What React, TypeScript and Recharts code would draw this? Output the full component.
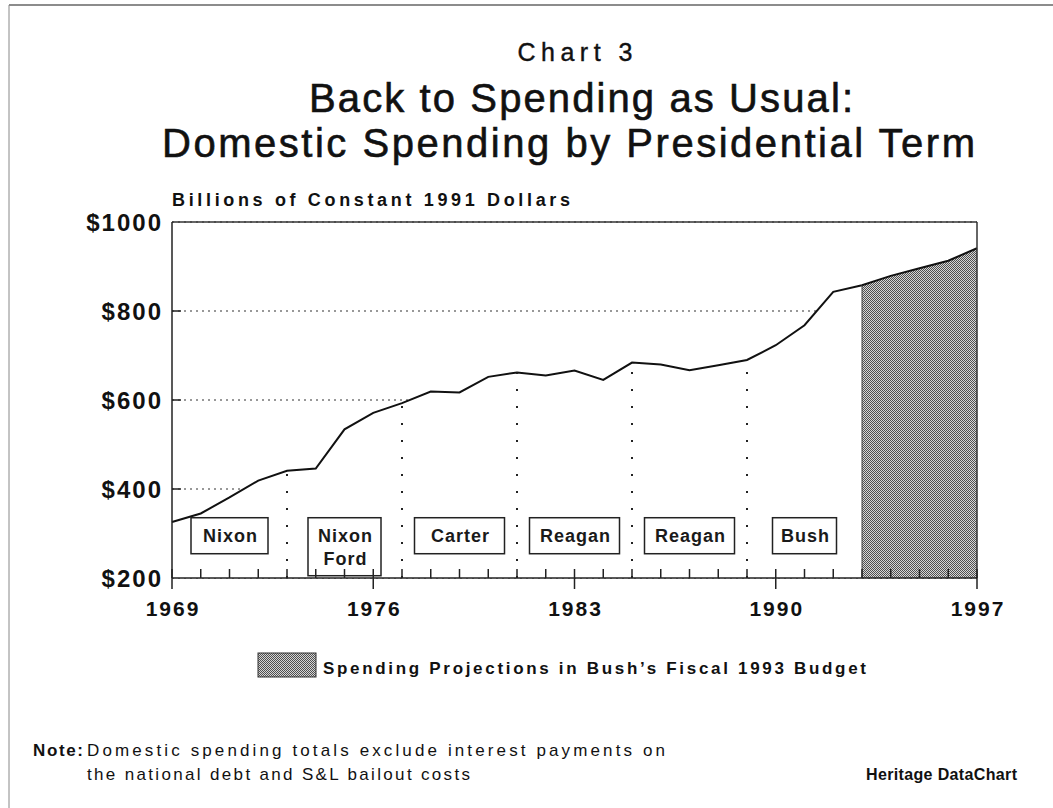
import {
  ComposedChart,
  Area,
  Line,
  XAxis,
  YAxis,
  CartesianGrid,
  ReferenceLine,
  ReferenceDot,
} from "recharts";

const FONT = '"Liberation Sans", Arial, Helvetica, sans-serif';

// domestic spending, billions of constant 1991 dollars
const years = [
  1969, 1970, 1971, 1972, 1973, 1974, 1975, 1976, 1977, 1978, 1979, 1980, 1981, 1982, 1983,
  1984, 1985, 1986, 1987, 1988, 1989, 1990, 1991, 1992, 1993, 1994, 1995, 1996, 1997,
];
const spending = [
  326, 345, 381, 419, 441, 446, 534, 571, 593, 619, 617, 652, 662, 655, 666,
  645, 684, 680, 667, 678, 690, 723, 768, 843, 858, 879, 896, 913, 941,
];
const projectionStart = 1993;

const yTicks = [200, 400, 600, 800, 1000];
const xLabelYears = [1969, 1976, 1983, 1990, 1997];

const termNames = [["Nixon"], ["Nixon", "Ford"], ["Carter"], ["Reagan"], ["Reagan"], ["Bush"]];
const termStarts = [1969, 1973, 1977, 1981, 1985, 1989];
const termLabelLevel = 295;

const data = years.map((year, i) => ({
  year,
  spending: spending[i],
  projection: year >= projectionStart ? spending[i] : null,
}));

const valueAt = (yr: number) => spending[years.indexOf(yr)];

function XTick({ x, y, payload }: any) {
  const v = payload.value;
  const major = xLabelYears.includes(v);
  return (
    <g>
      <line x1={x} x2={x} y1={y - 9} y2={major ? y + 11 : y} stroke="#222" strokeWidth={1.5} />
      {major && (
        <text
          x={x + 1}
          y={y + 38}
          textAnchor="middle"
          fontSize={21}
          fontWeight="bold"
          fontFamily={FONT}
          fill="#111"
          letterSpacing={2}
        >
          {v}
        </text>
      )}
    </g>
  );
}

function YTick({ x, y, payload }: any) {
  const v = payload.value;
  return (
    <g>
      {v !== 200 && v !== 1000 && (
        <line x1={x} x2={x + 9} y1={y} y2={y} stroke="#222" strokeWidth={1.5} />
      )}
      <text
        x={x - 9}
        y={y + 8.5}
        textAnchor="end"
        fontSize={24}
        fontWeight="bold"
        fontFamily={FONT}
        fill="#111"
        letterSpacing={2}
      >
        {"$" + v}
      </text>
    </g>
  );
}

function TermBox({ cx, cy, lines }: { cx: number; cy: number; lines: string[] }) {
  const longest = Math.max(...lines.map((l) => l.length));
  const w = lines.length > 1 ? 73 : 13 * longest + 12;
  const h = lines.length * 22 + 14;
  const top = cy - 18;
  return (
    <g>
      <rect x={cx - w / 2} y={top} width={w} height={h} fill="#fff" stroke="#222" strokeWidth={1.5} />
      {lines.map((l, i) => (
        <text
          key={i}
          x={cx + 1}
          y={top + 24 + i * 23}
          textAnchor="middle"
          fontSize={18}
          fontWeight="bold"
          fontFamily={FONT}
          fill="#1a1a1a"
          letterSpacing={1}
        >
          {l}
        </text>
      ))}
    </g>
  );
}

function Stipple({ id }: { id: string }) {
  return (
    <pattern id={id} width={2} height={2} patternUnits="userSpaceOnUse">
      <rect width={2} height={2} fill="#d6d6d6" />
      <rect x={0} y={0} width={1} height={1} fill="#505050" />
      <rect x={1} y={1} width={1} height={1} fill="#505050" />
    </pattern>
  );
}

const textBase = { fontFamily: FONT, fill: "#111" };
const titleBase = { ...textBase, stroke: "#111", strokeWidth: 0.6 };

export default function App() {
  return (
    <div style={{ position: "absolute", left: 0, top: 0, width: 1053, height: 808, background: "#fff" }}>
      <ComposedChart
        width={1053}
        height={808}
        data={data}
        margin={{ top: 222, right: 76, bottom: 200, left: 0 }}
      >
        <defs>
          <Stipple id="stipple" />
        </defs>
        <CartesianGrid vertical={false} stroke="#777" strokeDasharray="2 4" strokeWidth={1.3} />
        <XAxis
          dataKey="year"
          type="number"
          domain={[1969, 1997]}
          ticks={years}
          interval={0}
          height={30}
          tickSize={0}
          tickMargin={0}
          tick={<XTick />}
          axisLine={{ stroke: "#222", strokeWidth: 1.5 }}
        />
        <YAxis
          type="number"
          domain={[200, 1000]}
          ticks={yTicks}
          interval={0}
          width={172}
          tickSize={0}
          tickMargin={0}
          tick={<YTick />}
          axisLine={{ stroke: "#222", strokeWidth: 1.5 }}
        />
        <Area
          type="linear"
          dataKey="spending"
          stroke="none"
          fill="#fff"
          fillOpacity={1}
          isAnimationActive={false}
          dot={false}
          activeDot={false}
        />
        <Area
          type="linear"
          dataKey="projection"
          stroke="none"
          fill="url(#stipple)"
          fillOpacity={1}
          isAnimationActive={false}
          dot={false}
          activeDot={false}
          connectNulls={false}
        />
        <Line
          type="linear"
          dataKey="spending"
          stroke="#111"
          strokeWidth={2}
          dot={false}
          activeDot={false}
          isAnimationActive={false}
        />
        {termStarts.slice(1).map((yr) => (
          <ReferenceLine
            key={yr}
            segment={[
              { x: yr, y: 200 },
              { x: yr, y: valueAt(yr) },
            ]}
            stroke="#222"
            strokeWidth={2}
            strokeDasharray="2 15"
          />
        ))}
        <ReferenceLine
          segment={[
            { x: projectionStart, y: 200 },
            { x: projectionStart, y: valueAt(projectionStart) },
          ]}
          stroke="#444"
          strokeWidth={1}
        />
        <ReferenceLine y={1000} stroke="#333" strokeWidth={1.5} />
        <ReferenceLine x={1997} stroke="#333" strokeWidth={1.5} />
        {termNames.map((lines, i) => (
          <ReferenceDot
            key={i}
            x={termStarts[i] + 2}
            y={termLabelLevel}
            shape={(p: any) => <TermBox cx={p.cx} cy={p.cy} lines={lines} />}
          />
        ))}
      </ComposedChart>

      <svg
        width={1053}
        height={808}
        style={{ position: "absolute", left: 0, top: 0, pointerEvents: "none" }}
      >
        <defs>
          <Stipple id="stipple-legend" />
        </defs>
        <line x1={9} x2={1053} y1={5} y2={5} stroke="#666" strokeWidth={1.5} />
        <line x1={9} x2={9} y1={5} y2={808} stroke="#888" strokeWidth={1} />

        <text x={575} y={61} textAnchor="middle" fontSize={25} textLength={115} lengthAdjust="spacing" {...titleBase} strokeWidth={0.4}>
          Chart 3
        </text>
        <text x={309} y={112} fontSize={40} textLength={544} lengthAdjust="spacing" {...titleBase}>
          Back to Spending as Usual:
        </text>
        <text x={162} y={157} fontSize={40} textLength={813} lengthAdjust="spacing" {...titleBase}>
          Domestic Spending by Presidential Term
        </text>
        <text x={172} y={206} fontSize={18} fontWeight="bold" textLength={398} lengthAdjust="spacing" {...textBase}>
          Billions of Constant 1991 Dollars
        </text>

        <rect x={258} y={653} width={58} height={24} fill="url(#stipple-legend)" stroke="#333" strokeWidth={1} />
        <text x={323} y={674} fontSize={17} fontWeight="bold" textLength={543} lengthAdjust="spacing" {...textBase}>
          Spending Projections in Bush’s Fiscal 1993 Budget
        </text>

        <text x={33} y={756} fontSize={17} fontWeight="bold" textLength={50} lengthAdjust="spacing" {...textBase}>
          Note:
        </text>
        <text x={87} y={756} fontSize={17} textLength={578} lengthAdjust="spacing" {...textBase}>
          Domestic spending totals exclude interest payments on
        </text>
        <text x={87} y={780} fontSize={17} textLength={383} lengthAdjust="spacing" {...textBase}>
          the national debt and S&amp;L bailout costs
        </text>
        <text x={866} y={780} fontSize={16} fontWeight="bold" textLength={151} lengthAdjust="spacing" {...textBase}>
          Heritage DataChart
        </text>
      </svg>
    </div>
  );
}
